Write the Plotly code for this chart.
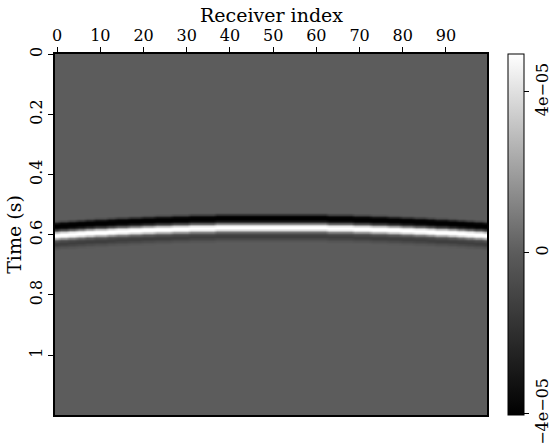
import numpy as np
import plotly.graph_objects as go

# ---- data ----
dt = 0.002          # s, sample interval
nt = 600            # number of time samples (0 .. 1.198 s)
receivers = list(range(100))

# sample index (2 ms samples) of the white (positive) peak for every receiver
arrival_sample = [
    302, 301, 301, 300, 300, 299, 299, 298, 298, 297,
    297, 297, 296, 296, 295, 295, 295, 294, 294, 294,
    293, 293, 293, 292, 292, 292, 292, 291, 291, 291,
    291, 290, 290, 290, 290, 290, 290, 289, 289, 289,
    289, 289, 289, 289, 289, 289, 289, 289, 289, 289,
    289, 289, 289, 289, 289, 289, 289, 289, 289, 289,
    289, 289, 289, 290, 290, 290, 290, 290, 290, 291,
    291, 291, 291, 292, 292, 292, 292, 293, 293, 293,
    294, 294, 294, 295, 295, 295, 296, 296, 297, 297,
    297, 298, 298, 299, 299, 300, 300, 301, 301, 302,
]

# wavelet: offsets (in 2 ms samples) relative to the arrival, amplitudes x1e-5
wavelet_offset = list(range(-28, 25))
wavelet_amp = [
    0.0, -0.05, -0.2, -0.5, -0.9, -1.5, -2.2, -2.9, -3.5, -3.8,
    -3.95, -4.0, -4.0, -3.95, -3.8, -3.45, -3.0, -2.3, -1.5, -0.5,
    0.5, 1.6, 2.6, 3.5, 4.2, 4.6, 4.9, 4.94, 4.94, 4.7,
    4.3, 3.7, 3.0, 2.1, 1.3, 0.6, 0.0, -0.4, -0.8, -1.0,
    -1.2, -1.27, -1.3, -1.25, -1.1, -0.95, -0.8, -0.65, -0.5, -0.35,
    -0.25, -0.15, -0.1,
]

z_min, z_max = -4.03e-5, 4.94e-5
cbar_tickvals = [-4e-5, 0, 4e-5]
cbar_ticktext = ["\u22124e\u221205", "0", "4e\u221205"]
x_tickvals = [0, 10, 20, 30, 40, 50, 60, 70, 80, 90]
y_tickvals = [0, 0.2, 0.4, 0.6, 0.8, 1.0]
y_ticktext = ["0", "0.2", "0.4", "0.6", "0.8", "1"]

# ---- build the gather ----
time = np.arange(nt) * dt
z = np.zeros((nt, len(receivers)))
for j, a in enumerate(arrival_sample):
    for off, amp in zip(wavelet_offset, wavelet_amp):
        z[a + off, j] = amp * 1e-5

zero_pos = (0 - z_min) / (z_max - z_min)
colorscale = [[0, "rgb(0,0,0)"], [zero_pos, "rgb(92,92,92)"], [1, "rgb(255,255,255)"]]

font_family = "DejaVu Serif"

fig = go.Figure(go.Heatmap(
    x=receivers, y=time, z=z,
    zmin=z_min, zmax=z_max, colorscale=colorscale, zsmooth="best",
    colorbar=dict(
        x=1.048, xanchor="left", xpad=0,
        y=0.5, yanchor="middle", len=1, lenmode="fraction", ypad=0,
        thickness=16, outlinewidth=1, outlinecolor="black",
        tickvals=cbar_tickvals, ticktext=cbar_ticktext,
        ticks="outside", ticklen=5, tickcolor="black", tickangle=-90,
        tickfont=dict(family=font_family, size=16, color="black"),
    ),
))

fig.update_layout(
    width=553, height=445,
    margin=dict(l=55, r=66, t=54, b=30, autoexpand=False),
    paper_bgcolor="white", plot_bgcolor="white",
    font=dict(family=font_family, size=16, color="black"),
    annotations=[
        dict(text="(a)", x=0.5, y=1, xref="paper", yref="paper",
             xanchor="center", yanchor="bottom", yshift=51,
             showarrow=False, font=dict(family=font_family, size=19)),
        dict(text="Receiver index", x=0.5, y=1, xref="paper", yref="paper",
             xanchor="center", yanchor="middle", yshift=39,
             showarrow=False, font=dict(family=font_family, size=19)),
    ],
)
fig.update_xaxes(
    side="top", range=[-0.5, 99.5], tickvals=x_tickvals,
    ticks="outside", ticklen=5, tickcolor="black", tickwidth=1,
    showline=True, linecolor="black", linewidth=1.5, mirror=True,
    showgrid=False, zeroline=False,
    tickfont=dict(family=font_family, size=16),
)
fig.update_yaxes(
    range=[time[-1] + dt / 2, -dt / 2], tickvals=y_tickvals, ticktext=y_ticktext,
    ticks="outside", ticklen=5, tickcolor="black", tickwidth=1, tickangle=-90,
    showline=True, linecolor="black", linewidth=1.5, mirror=True,
    showgrid=False, zeroline=False,
    title=dict(text="Time (s)", standoff=0, font=dict(family=font_family, size=19)),
    tickfont=dict(family=font_family, size=16),
)

fig.write_html("out.html")
